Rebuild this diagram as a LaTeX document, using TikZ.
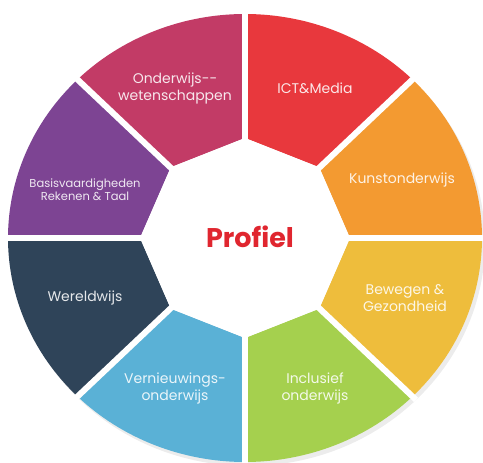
\documentclass[tikz,border=0pt]{standalone}
\usepackage{fontspec}
\setmainfont{Poppins}

\definecolor{segmag}{RGB}{194,59,102}
\definecolor{segred}{RGB}{232,56,61}
\definecolor{segorange}{RGB}{243,154,49}
\definecolor{segyellow}{RGB}{238,189,60}
\definecolor{seggreen}{RGB}{165,208,78}
\definecolor{segblue}{RGB}{90,177,214}
\definecolor{segnavy}{RGB}{47,68,89}
\definecolor{segpurple}{RGB}{125,68,147}
\definecolor{profred}{RGB}{224,38,47}

\begin{document}
\begin{tikzpicture}[x=1pt,y=1pt,
        seglabel/.style={text=white,text opacity=0.88,align=center,
                font=\fontsize{14}{17}\selectfont}]
        \useasboundingbox (0,0) rectangle (483,463);

	\def \cx {245}
	\def \cy {225}
	\def \R {237}
	\def \Ry {224}
	\def \r {105}
	\def \ry {100}

        % soft shadow behind the wheel
        \fill[gray!15] (\cx+3,\cy-4) ellipse[x radius=\R, y radius=\Ry];

        % draw the segments
        \foreach \a/\col in {90/segmag,45/segred,0/segorange,315/segyellow,
                270/seggreen,225/segblue,180/segnavy,135/segpurple} {
                \fill[\col] ({\cx+\r*cos(\a)},{\cy+\ry*sin(\a)})
                        -- ({\cx+\R*cos(\a)},{\cy+\Ry*sin(\a)})
                        arc[start angle=\a, end angle=\a+45, x radius=\R, y radius=\Ry]
                        -- ({\cx+\r*cos(\a+45)},{\cy+\ry*sin(\a+45)}) -- cycle;
        }

        % white hole in the middle
        \fill[white] (\cx+\r,\cy)
                \foreach \a in {45,90,...,315} { -- ({\cx+\r*cos(\a)},{\cy+\ry*sin(\a)}) } -- cycle;

        % white gaps between the segments
        \foreach \a in {0,45,...,315} {
                \draw[white,line width=6] (\cx,\cy) -- ({\cx+(\R+5)*cos(\a)},{\cy+(\Ry+5)*sin(\a)});
        }

	\node[seglabel] (onderwijs) at (175,375) {Onderwijs-{}-\\wetenschappen};
	\node[seglabel] (ict) at (315,375) {ICT\&Media};
	\node[seglabel] (kunst) at (402,283) {Kunstonderwijs};
	\node[seglabel] (bewegen) at (405,165) {Bewegen \&\\Gezondheid};
	\node[seglabel] (inclusief) at (315,75) {Inclusief\\onderwijs};
	\node[seglabel] (vernieuwing) at (175,75) {Vernieuwings-\\onderwijs};
	\node[seglabel] (wereld) at (85,165) {Wereldwijs};
	\node[seglabel,font=\fontsize{11.5}{13}\selectfont] (basis) at (85,273) {Basisvaardigheden\\Rekenen \& Taal};

	\node[text=profred,font=\fontsize{27}{27}\selectfont\bfseries] (profiel) at (250,226) {Profiel};

    \end{tikzpicture}
\end{document}
